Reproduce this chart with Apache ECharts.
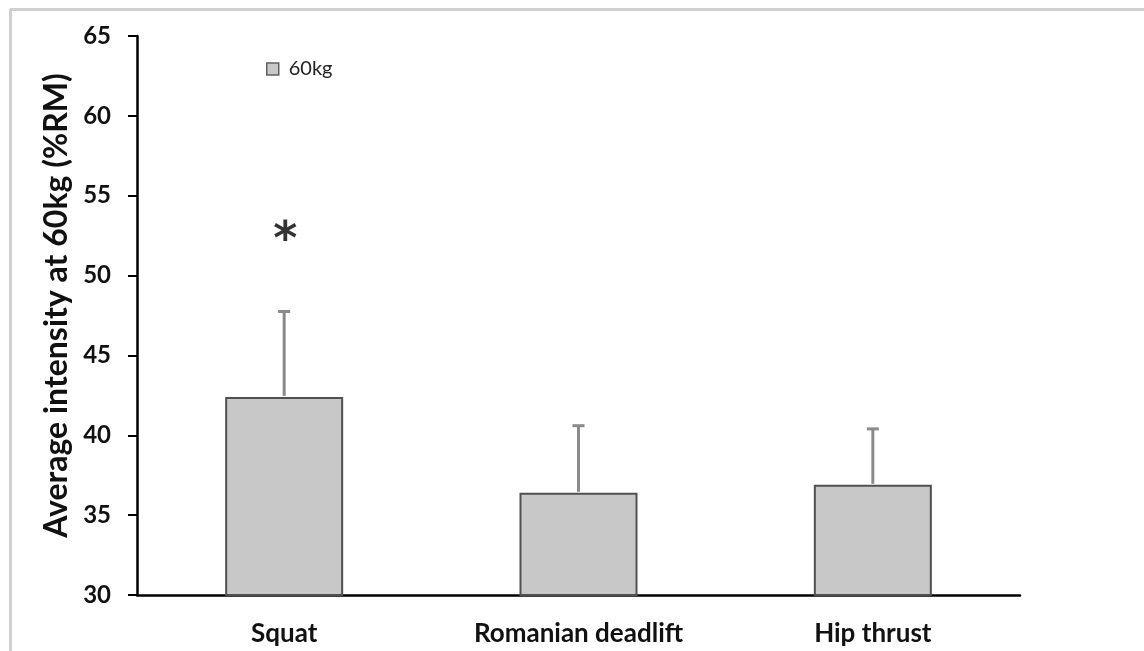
<!DOCTYPE html>
<html>
<head>
<meta charset="utf-8">
<script src="https://cdn.jsdelivr.net/npm/echarts@6/dist/echarts.min.js"></script>
<style>
html,body{margin:0;padding:0;background:#fff;}
#chart{width:1144px;height:651px;}
</style>
</head>
<body>
<div id="chart"></div>
<script>
const categories = ['Squat', 'Romanian deadlift', 'Hip thrust'];
const means = [42.4, 36.4, 36.9];
const errorTops = [47.75, 40.6, 40.4];
const yTicks = [30, 35, 40, 45, 50, 55, 60, 65];
const seriesName = '60kg';
const significance = [{ category: 'Squat', y: 52.75, text: '*' }];

const chart = echarts.init(document.getElementById('chart'), null, { renderer: 'canvas' });

const errData = categories.map((c, i) => [i, means[i], errorTops[i]]);
const FONT = 'Lato';

const option = {
  animation: false,
  textStyle: { fontFamily: FONT },
  graphic: [
    { type: 'line', shape: { x1: 10, y1: 9.5, x2: 1144, y2: 9.5 }, style: { stroke: '#d0d0d0', lineWidth: 3 } },
    { type: 'line', shape: { x1: 10.5, y1: 9, x2: 10.5, y2: 651 }, style: { stroke: '#d0d0d0', lineWidth: 3 } }
  ],
  legend: {
    left: 261, top: 54,
    icon: 'rect',
    itemWidth: 12, itemHeight: 12, itemGap: 6,
    data: [seriesName],
    textStyle: { fontFamily: FONT, fontSize: 20, color: '#222', padding: [0,0,0,5] },
    itemStyle: { color: '#c8c8c8', borderColor: '#606060', borderWidth: 1.5 }
  },
  grid: { left: 137, right: 124, top: 36, bottom: 56, containLabel: false },
  xAxis: {
    type: 'category',
    data: categories,
    axisLine: { lineStyle: { color: '#000', width: 2.5 } },
    axisTick: { show: false },
    axisLabel: { margin: 26, fontFamily: FONT, fontWeight: 'bold', fontSize: 26, color: '#111' }
  },
  yAxis: {
    type: 'value',
    min: 30, max: 65, interval: 5,
    name: 'Average intensity at 60kg (%RM)',
    nameLocation: 'middle',
    nameGap: 54,
    nameTextStyle: { fontFamily: FONT, fontWeight: 'bold', fontSize: 32, color: '#111', padding: [0, 0, 0, 20] },
    splitLine: { show: false },
    axisLine: { show: true, lineStyle: { color: '#000', width: 2.5 } },
    axisTick: { show: true, length: 9, lineStyle: { color: '#000', width: 2 } },
    axisLabel: {
      margin: 26, fontFamily: FONT, fontWeight: 'bold', fontSize: 24, color: '#111',
      formatter: v => yTicks.includes(v) ? String(v) : ''
    }
  },
  series: [
    {
      name: seriesName,
      type: 'bar',
      data: means,
      barWidth: 118,
      itemStyle: { color: '#c8c8c8', borderColor: '#505050', borderWidth: 2 },
      z: 2
    },
    {
      type: 'custom',
      name: 'err',
      data: errData,
      z: 3,
      renderItem: function (params, api) {
        const x = api.value(0);
        const lo = api.coord([x, api.value(1)]);
        const hi = api.coord([x, api.value(2)]);
        const cap = 6;
        return {
          type: 'group',
          children: [
            { type: 'line', shape: { x1: lo[0], y1: lo[1] - 1, x2: hi[0], y2: hi[1] }, style: { stroke: '#8a8a8a', lineWidth: 3 } },
            { type: 'line', shape: { x1: hi[0] - cap, y1: hi[1], x2: hi[0] + cap, y2: hi[1] }, style: { stroke: '#8a8a8a', lineWidth: 3 } }
          ]
        };
      }
    },
    {
      type: 'scatter',
      name: 'sig',
      symbolSize: 0,
      data: significance.map(s => [s.category, s.y]),
      label: {
        show: true, position: 'inside',
        formatter: () => '*',
        fontFamily: 'DejaVu Sans', fontWeight: 'bold', fontSize: 46, color: '#000',
        offset: [1, 10]
      },
      z: 4
    }
  ]
};
chart.setOption(option);
</script>
</body>
</html>
